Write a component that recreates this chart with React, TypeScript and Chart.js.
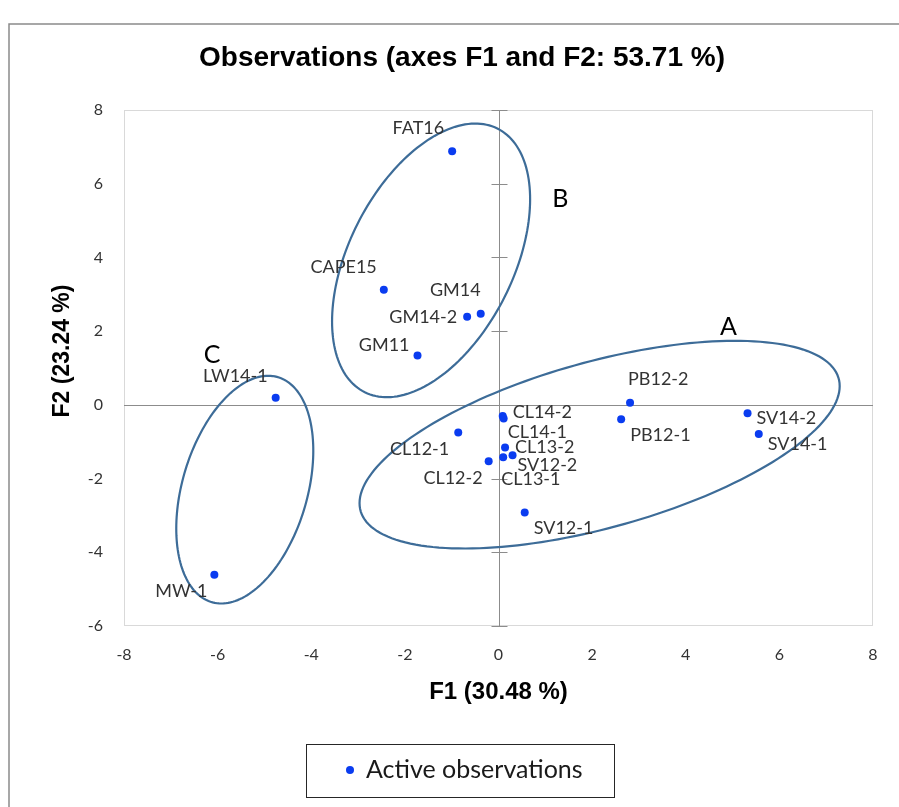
import React, { useEffect, useRef } from "react";
import { Chart, registerables } from "chart.js";

Chart.register(...registerables);

// Observation names with their coordinates on the first two factors
const names = [
  "FAT16", "CAPE15", "GM14", "GM14-2", "GM11", "LW14-1", "MW-1",
  "CL14-2", "CL14-1", "CL12-1", "CL13-2", "SV12-2", "CL13-1", "CL12-2",
  "SV12-1", "PB12-2", "PB12-1", "SV14-2", "SV14-1",
];
const f1 = [
  -0.99, -2.45, -0.38, -0.67, -1.73, -4.76, -6.07,
  0.09, 0.11, -0.86, 0.14, 0.3, 0.1, -0.21,
  0.56, 2.81, 2.62, 5.32, 5.56,
];
const f2 = [
  6.88, 3.12, 2.47, 2.39, 1.34, 0.19, -4.61,
  -0.3, -0.37, -0.75, -1.16, -1.37, -1.42, -1.53,
  -2.92, 0.06, -0.39, -0.23, -0.79,
];

// Axis ranges and ticks
const xTicks = [-8, -6, -4, -2, 0, 2, 4, 6, 8];
const yTicks = [-6, -4, -2, 0, 2, 4, 6, 8];

const chartTitle = "Observations (axes F1 and F2: 53.71 %)";
const xTitle = "F1 (30.48 %)";
const yTitle = "F2 (23.24 %)";
const legendLabel = "Active observations";

// Group outlines in F1/F2 units: centre and covariance-style shape
const groupNames = ["A", "B", "C"];
const groupCx = [2.16, -1.44, -5.42];
const groupCy = [-1.08, 3.92, -2.3];
const groupSxx = [26.3, 4.475, 2.142];
const groupSyy = [7.94, 13.78, 9.545];
const groupSxy = [8.14, 3.509, 1.546];
// where each group letter sits, in F1/F2 units
const groupLabelX = [4.91, 1.32, -6.12];
const groupLabelY = [2.12, 5.58, 1.36];

// label placement around each point: [dx, dy, align]
const labelPlacement: Record<string, [number, number, CanvasTextAlign]> = {
  "FAT16": [-8, -23, "right"],
  "CAPE15": [-7, -23, "right"],
  "GM14": [0, -24, "right"],
  "GM14-2": [-10, 0, "right"],
  "GM11": [-8, -10, "right"],
  "LW14-1": [-8, -22, "right"],
  "MW-1": [-7, 16, "right"],
  "CL14-2": [10, -4, "left"],
  "CL14-1": [4, 14, "left"],
  "CL12-1": [-9, 17, "right"],
  "CL13-2": [10, 0, "left"],
  "SV12-2": [5, 10, "left"],
  "CL13-1": [-2, 22, "left"],
  "CL12-2": [-6, 17, "right"],
  "SV12-1": [9, 16, "left"],
  "PB12-2": [-2, -23, "left"],
  "PB12-1": [9, 16, "left"],
  "SV14-2": [9, 5, "left"],
  "SV14-1": [9, 10, "left"],
};

const POINT_COLOR = "#0a3cf0";
const OUTLINE_COLOR = "#3d6c98";
const TEXT_COLOR = "#333333";
const LABEL_FONT = '18px Lato, "Noto Sans", sans-serif';

const decorPlugin = {
  id: "pcaDecor",
  beforeDatasetsDraw(chart: any) {
    const { ctx, chartArea: a, scales } = chart;
    const xs = scales.x;
    const ys = scales.y;
    ctx.save();
    // plot area frame
    ctx.strokeStyle = "#d9d9d9";
    ctx.lineWidth = 1;
    ctx.strokeRect(a.left + 0.5, a.top + 0.5, a.right - a.left - 1, a.bottom - a.top - 1);
    // zero axes
    const x0 = Math.round(xs.getPixelForValue(0)) + 0.5;
    const y0 = Math.round(ys.getPixelForValue(0)) + 0.5;
    ctx.strokeStyle = "#8c8c8c";
    ctx.beginPath();
    ctx.moveTo(x0, a.top);
    ctx.lineTo(x0, a.bottom);
    ctx.moveTo(a.left, y0);
    ctx.lineTo(a.right, y0);
    // tick marks across the vertical axis
    yTicks.forEach((v) => {
      const py = Math.round(ys.getPixelForValue(v)) + 0.5;
      ctx.moveTo(x0 - 8, py);
      ctx.lineTo(x0 + 8, py);
    });
    ctx.stroke();
    ctx.restore();
  },
  afterDatasetsDraw(chart: any) {
    const { ctx, scales } = chart;
    const xs = scales.x;
    const ys = scales.y;
    ctx.save();
    // group outlines
    ctx.strokeStyle = OUTLINE_COLOR;
    ctx.lineWidth = 2.2;
    groupNames.forEach((_, i) => {
      const l11 = Math.sqrt(groupSxx[i]);
      const l21 = groupSxy[i] / l11;
      const l22 = Math.sqrt(groupSyy[i] - l21 * l21);
      ctx.beginPath();
      for (let k = 0; k <= 180; k++) {
        const t = (k / 180) * Math.PI * 2;
        const c = Math.cos(t);
        const s = Math.sin(t);
        const dx = groupCx[i] + l11 * c;
        const dy = groupCy[i] + l21 * c + l22 * s;
        const px = xs.getPixelForValue(dx);
        const py = ys.getPixelForValue(dy);
        if (k === 0) ctx.moveTo(px, py);
        else ctx.lineTo(px, py);
      }
      ctx.closePath();
      ctx.stroke();
    });
    // group letters
    ctx.fillStyle = "#000";
    ctx.font = '25px Lato, "Noto Sans", sans-serif';
    ctx.textAlign = "center";
    ctx.textBaseline = "middle";
    groupNames.forEach((g, i) => {
      ctx.fillText(g, xs.getPixelForValue(groupLabelX[i]), ys.getPixelForValue(groupLabelY[i]));
    });
    // point labels
    ctx.fillStyle = TEXT_COLOR;
    ctx.font = LABEL_FONT;
    names.forEach((n, i) => {
      const [dx, dy, align] = labelPlacement[n];
      ctx.textAlign = align;
      ctx.fillText(n, xs.getPixelForValue(f1[i]) + dx, ys.getPixelForValue(f2[i]) + dy);
    });
    ctx.restore();
  },
  afterDraw(chart: any) {
    const { ctx, chartArea: a, width, height } = chart;
    ctx.save();
    // outer frame
    ctx.strokeStyle = "#8a8a8a";
    ctx.lineWidth = 1.5;
    ctx.beginPath();
    ctx.moveTo(9, height + 2);
    ctx.lineTo(9, 24);
    ctx.lineTo(width + 2, 24);
    ctx.stroke();
    // chart title
    ctx.fillStyle = "#000";
    ctx.textAlign = "center";
    ctx.textBaseline = "middle";
    ctx.font = 'bold 28px "Liberation Sans", Arial, sans-serif';
    ctx.fillText(chartTitle, 462, 58);
    // axis titles
    ctx.font = 'bold 24px "Liberation Sans", Arial, sans-serif';
    ctx.fillText(xTitle, (a.left + a.right) / 2, 692);
    ctx.save();
    ctx.translate(63, 351);
    ctx.rotate(-Math.PI / 2);
    ctx.font = 'bold 23px "Liberation Sans", Arial, sans-serif';
    ctx.fillText(yTitle, 0, 0);
    ctx.restore();
    // legend box
    ctx.strokeStyle = "#262626";
    ctx.lineWidth = 1;
    ctx.strokeRect(306.5, 744.5, 308, 53);
    ctx.fillStyle = POINT_COLOR;
    ctx.beginPath();
    ctx.arc(350, 770, 4, 0, Math.PI * 2);
    ctx.fill();
    ctx.fillStyle = "#1a1a1a";
    ctx.textAlign = "left";
    ctx.font = '25px Lato, "Noto Sans", sans-serif';
    ctx.fillText(legendLabel, 366, 770);
    ctx.restore();
  },
};

export default function App() {
  const canvasRef = useRef<HTMLCanvasElement | null>(null);

  useEffect(() => {
    document.body.style.margin = "0";
    const canvas = canvasRef.current;
    if (!canvas) return;
    const points = f1.map((x, i) => ({ x, y: f2[i] }));
    const tickFont = { family: 'Lato, "Noto Sans", sans-serif', size: 16 };
    const chart = new Chart(canvas, {
      type: "scatter",
      data: {
        datasets: [
          {
            label: legendLabel,
            data: points,
            backgroundColor: POINT_COLOR,
            borderWidth: 0,
            pointRadius: 4,
            pointHoverRadius: 4,
          },
        ],
      },
      options: {
        responsive: false,
        animation: false,
        devicePixelRatio: 1,
        layout: { padding: { left: 0, top: 110, right: 26, bottom: 81 } },
        plugins: {
          legend: { display: false },
          title: { display: false },
          tooltip: { enabled: false },
        },
        scales: {
          x: {
            type: "linear",
            min: xTicks[0],
            max: xTicks[xTicks.length - 1],
            afterBuildTicks: (s: any) => {
              s.ticks = xTicks.map((v) => ({ value: v }));
            },
            afterFit: (s: any) => {
              s.height = 100;
            },
            grid: { display: false },
            border: { display: false },
            ticks: { font: tickFont, color: TEXT_COLOR, padding: 11, maxRotation: 0 },
          },
          y: {
            type: "linear",
            min: yTicks[0],
            max: yTicks[yTicks.length - 1],
            afterBuildTicks: (s: any) => {
              s.ticks = yTicks.map((v) => ({ value: v }));
            },
            afterFit: (s: any) => {
              s.width = 124;
            },
            grid: { display: false },
            border: { display: false },
            ticks: { font: tickFont, color: TEXT_COLOR, padding: 13 },
          },
        },
      },
      plugins: [decorPlugin],
    });
    return () => chart.destroy();
  }, []);

  return <canvas ref={canvasRef} width={899} height={807} style={{ display: "block" }} />;
}
